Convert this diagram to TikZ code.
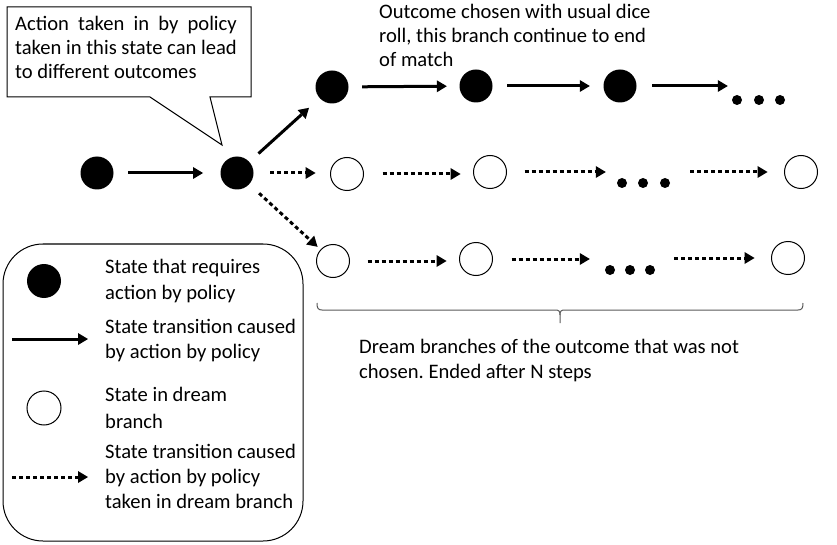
\documentclass[tikz,border=0pt]{standalone}
\usepackage{fontspec}
\usepackage{calc}
\setmainfont{Carlito}
\frenchspacing
\usetikzlibrary{arrows.meta,calc}
\begin{document}
\begin{tikzpicture}[x=1pt,y=-1pt,
  full/.style={circle,fill=black,inner sep=0pt,minimum size=33pt},
  hollow/.style={circle,draw=black,line width=1pt,fill=white,inner sep=0pt,minimum size=33pt},
  dotnode/.style={circle,fill=black,inner sep=0pt,minimum size=10pt},
  arr/.style={line width=3pt,-{Triangle[length=10pt,width=12pt,line width=0pt]}},
  darr/.style={arr,dash pattern=on 4pt off 3pt},
  txt/.style={anchor=base west,inner sep=0pt,font=\fontsize{20.6}{24.5}\selectfont},
  thinline/.style={line width=1pt,draw=black},
]
\useasboundingbox (0,0) rectangle (837,545);

% callout
\draw[thinline] (7,7) -- (251,7) -- (251,97) -- (210,97) -- (222,145) -- (150,97) -- (7,97) -- cycle;
\node[txt] (c1) at (15,31) {\makebox[\widthof{taken in this state can lead}][s]{Action taken in by policy}};
\node[txt] (c2) at (15,55) {taken in this state can lead};
\node[txt] (c3) at (15,79) {to different outcomes};

% top text
\node[txt] (o1) at (379,19) {Outcome chosen with usual dice};
\node[txt] (o2) at (379,43) {roll, this branch continue to end};
\node[txt] (o3) at (379,67) {of match};

% main states
\node[full] (S0) at (97,173) {};
\node[full] (S1) at (237,173) {};
\node[full] (T1) at (332,87) {};
\node[full] (T2) at (476,86) {};
\node[full] (T3) at (620,86) {};
\node[dotnode] (Td1) at (737,100) {};
\node[dotnode] (Td2) at (759,100) {};
\node[dotnode] (Td3) at (780,100) {};

\node[hollow] (M1) at (347,174) {};
\node[hollow] (M2) at (490,172) {};
\node[dotnode] (Md1) at (622,183) {};
\node[dotnode] (Md2) at (643,183) {};
\node[dotnode] (Md3) at (665,183) {};
\node[hollow] (M3) at (801,172) {};

\node[hollow] (B1) at (333,261) {};
\node[hollow] (B2) at (476,259) {};
\node[dotnode] (Bd1) at (610,270) {};
\node[dotnode] (Bd2) at (630,270) {};
\node[dotnode] (Bd3) at (650,270) {};
\node[hollow] (B3) at (788,258) {};

% solid arrows
\draw[arr,shorten <=31pt,shorten >=34pt] (S0.center) -- (S1.center);
\draw[arr,shorten <=29pt,shorten >=31pt] (S1.center) -- (T1.center);
\draw[arr,shorten <=13.5pt,shorten >=12.5pt] (T1) -- (T2);
\draw[arr,shorten <=14.5pt,shorten >=13.5pt] (T2) -- (T3);
\draw[arr,shorten <=15.5pt,shorten >=4pt] (T3) -- (T3 -| Td1.west);

% dotted arrows
\draw[darr,shorten <=16.5pt,shorten >=14.5pt] (S1) -- (S1 -| M1.west);
\draw[darr,shorten <=30pt,shorten >=21pt] (S1.center) -- (B1.center);
\draw[darr,shorten <=18.5pt,shorten >=12.5pt] (M1) -- (M1 -| M2.west);
\draw[darr,shorten <=17.5pt,shorten >=11pt] (M2) -- (M2 -| Md1.west);
\draw[darr,shorten <=20pt,shorten >=16.5pt] (Md3.east |- M3) -- (M3);
\draw[darr,shorten <=17.5pt,shorten >=12.5pt] (B1) -- (B1 -| B2.west);
\draw[darr,shorten <=18.5pt,shorten >=15pt] (B2) -- (B2 -| Bd1.west);
\draw[darr,shorten <=19pt,shorten >=16.5pt] (Bd3.east |- B3) -- (B3);

% brace
\draw[black!65,line width=1pt] (317,303) .. controls (317,308) and (318,310) .. (322,310) -- (555,310) .. controls (559,310) and (560,311) .. (560,315) -- (560,323);
\draw[black!65,line width=1pt] (803,303) .. controls (803,308) and (802,310) .. (798,310) -- (565,310) .. controls (561,310) and (560,311) .. (560,315);
\node[txt] (d1) at (359,353) {Dream branches of the outcome that was not};
\node[txt] (d2) at (359,378) {chosen. Ended after N steps};

% legend
\draw[thinline,rounded corners=40pt] (3,244) rectangle (303,541);
\node[full,minimum size=34pt] (L1) at (44,281) {};
\node[txt] (l1a) at (105,273) {State that requires};
\node[txt] (l1b) at (105,299) {action by policy};
\coordinate (la1) at (12,339);
\coordinate (la2) at (88,339);
\draw[arr] (la1) -- (la2);
\node[txt] (l2a) at (105,333) {State transition caused};
\node[txt] (l2b) at (105,358) {by action by policy};
\node[hollow,minimum size=34pt] (L3) at (44,408) {};
\node[txt] (l3a) at (105,401) {State in dream};
\node[txt] (l3b) at (105,428) {branch};
\coordinate (lb1) at (12,477);
\coordinate (lb2) at (88,477);
\draw[darr] (lb1) -- (lb2);
\node[txt] (l4a) at (105,458) {State transition caused};
\node[txt] (l4b) at (105,483) {by action by policy};
\node[txt] (l4c) at (105,508) {taken in dream branch};
\end{tikzpicture}
\end{document}
